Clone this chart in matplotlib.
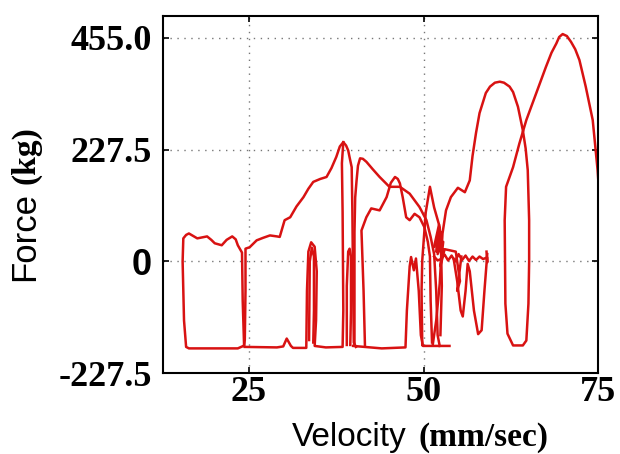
import numpy as np
from matplotlib import pyplot as plt

# traced force/velocity data (velocity mm/sec, force kg)
box_v = [24.2, 23.4, 20.0, 16.4, 16.0, 15.7, 15.5, 15.6, 16.0, 16.4, 17.0, 17.6, 18.3, 19.0, 19.6, 20.1,
         21.1, 21.8, 22.6, 23.1, 23.4, 24.0, 24.1, 24.3]
box_f = [-172, -177, -177, -177, -174, -120, 0, 47, 54, 57, 52, 47, 49, 51, 44, 37,
         33, 44, 51, 45, 33, 18, -80, -172]

rise_v = [24.3, 24.4, 24.5, 24.5, 25.1, 26.1, 27.0, 28.0, 29.0, 29.4, 30.1, 30.9, 31.8, 32.8, 33.5, 34.2,
          35.2, 36.1, 36.8, 37.5, 38.0, 38.5, 38.9, 39.2, 39.4, 39.7, 39.8, 39.9, 40.0, 40.3]
rise_f = [-172, -160, -60, 26, 29, 43, 48, 53, 51, 50, 84, 90, 112, 131, 148, 162,
          168, 172, 190, 213, 234, 243, 236, 226, 212, 192, 100, -50, -165, -174]

bottom_v = [24.4, 29.0, 29.9, 30.4, 31.0, 31.3, 33.2, 33.3, 33.5, 33.9, 34.4, 34.7, 34.6, 34.4, 36.0, 38.4,
            38.5, 38.4, 38.3, 38.5]
bottom_f = [-174, -175, -173, -157, -172, -176, -176, -60, 20, 39, 30, -20, -120, -172, -175, -174,
            -100, 100, 200, 243]

inner1_v = [33.6, 33.7, 34.0, 34.3, 34.3, 34.2]
inner1_f = [-160, 0, 28, 10, -100, -165]
inner2_v = [39.0, 39.0, 39.2, 39.4, 39.6, 39.6, 39.5]
inner2_f = [-170, -50, 20, 26, 10, -100, -170]

hump2_v = [40.1, 40.1, 40.2, 40.4, 40.6, 40.9, 41.3, 41.8, 42.7, 43.7, 45.1, 46.6, 48.0, 49.4, 50.4, 51.0,
           51.5, 51.8, 52.0, 52.3]
hump2_f = [-170, 60, 130, 165, 195, 210, 209, 203, 188, 172, 152, 152, 138, 111, 84, 50,
           15, -60, -150, -172]

hump3_v = [41.6, 41.4, 41.1, 41.8, 42.5, 43.7, 44.7, 45.3, 45.9, 46.3, 46.6, 47.0, 47.5, 48.0, 48.7, 49.4,
           50.1, 50.6, 50.9, 51.0, 51.2]
hump3_f = [-172, -60, 63, 90, 108, 104, 131, 160, 172, 168, 159, 131, 90, 84, 97, 90,
           70, 40, 10, -80, -165]

bottom2_v = [39.9, 44.0, 47.4, 47.6, 48.0, 48.2, 48.6, 48.9, 49.3, 49.6, 49.9, 53.7]
bottom2_f = [-172, -177, -175, -100, -10, 9, -18, 6, -60, -150, -172, -172]

spike_v = [49.8, 49.7, 49.8, 50.3, 50.9, 51.5, 52.3, 52.5, 52.6, 52.4]
spike_f = [-170, -60, 2, 100, 152, 110, 70, 20, -50, -150]

hump4_v = [51.3, 51.8, 52.3, 52.7, 53.2, 53.9, 54.9, 55.9, 56.6, 57.0, 57.5, 58.0, 58.9, 59.5, 60.2, 60.9,
           61.5, 62.3, 62.8, 63.5, 64.2, 64.6, 64.9, 65.1, 65.1, 65.0, 64.7, 64.2, 62.8, 62.0, 61.7,
           61.6, 61.8, 62.8, 63.7, 64.7, 66.1, 67.5, 68.3, 69.0, 69.4, 69.9, 70.5, 71.1, 71.7, 72.3,
           73.2, 74.2, 74.9, 75.0]
hump4_f = [-170, -120, -45, 57, 104, 131, 150, 141, 165, 215, 262, 302, 343, 356, 364, 366,
           364, 356, 345, 315, 267, 230, 186, 84, 0, -86, -161, -171, -171, -147, -86,
           84, 152, 192, 240, 288, 342, 396, 425, 444, 457, 463, 459, 447, 432, 410,
           356, 288, 186, 165]

band_v = [51.5, 52.0, 52.5, 53.0, 53.5, 54.0, 54.5, 55.0, 55.5, 56.0, 56.5, 57.0, 57.5, 58.0, 58.5, 59.1,
          59.1, 59.0]
band_f = [10, 2, 5, 14, 2, 12, 0, 15, 3, 12, 1, 10, 3, 10, 5, 8, -2, 20]

lobe_v = [54.3, 54.8, 55.3, 55.6, 56.0, 56.3, 56.6, 57.2, 57.8, 58.3, 58.7, 59.0, 59.1]
lobe_f = [5, -40, -100, -112, -60, -5, -20, -100, -148, -140, -60, -5, 15]

blob_v = [51.5, 52.2, 51.8, 52.6, 52.0, 52.8, 52.4, 53.0, 54.6, 55.2, 54.8, 55.4]
blob_f = [30, 75, 20, 60, 15, 40, -10, 25, 20, -40, -60, 10]

strokes = [(box_v, box_f), (rise_v, rise_f), (bottom_v, bottom_f), (inner1_v, inner1_f),
           (inner2_v, inner2_f), (hump2_v, hump2_f), (hump3_v, hump3_f), (bottom2_v, bottom2_f),
           (spike_v, spike_f), (hump4_v, hump4_f), (band_v, band_f), (lobe_v, lobe_f),
           (blob_v, blob_f)]

x_ticks = [25, 50, 75]
x_labels = ['25', '50', '75']
y_ticks = [-227.5, 0, 227.5, 455.0]
y_labels = ['-227.5', '0', '227.5', '455.0']

fig = plt.figure(figsize=(6.2, 4.54), dpi=100)
ax = fig.add_axes([0.263, 0.178, 0.702, 0.787])

for v, f in strokes:
    ax.plot(v, f, color='#d81212', linewidth=1.8)

ax.set_xlim(12.7, 75)
ax.set_ylim(-227.5, 500)

#ticks
ax.set_xticks(x_ticks)
ax.set_xticklabels(x_labels, family='Liberation Serif', fontweight='bold', fontsize=26)
ax.set_yticks(y_ticks)
ax.set_yticklabels(y_labels, family='Liberation Serif', fontweight='bold', fontsize=26)
for t in ax.get_yticklabels():
    if t.get_text() == '0':
        t.set_family('Liberation Sans')
ax.tick_params(direction='in', length=4, width=1.2, top=True, right=True)
ax.tick_params(axis='x', pad=2)
ax.tick_params(axis='y', pad=8)

for s in ax.spines.values():
    s.set_linewidth(1.5)

#grid
ax.grid(True, linestyle=(0, (1, 4)), color='#777777', linewidth=1.0)

#axis labels, mixed fonts like the original
fig.text(407 / 620, 1 - 446 / 454, 'Velocity', family='Liberation Sans', fontsize=24,
         ha='right', va='baseline')
fig.text(418 / 620, 1 - 446 / 454, '(mm/sec)', family='Liberation Serif', fontweight='bold',
         fontsize=24, ha='left', va='baseline')
fig.text(34 / 620, 1 - 192 / 454, 'Force', family='Liberation Sans', fontsize=25, rotation=90,
         rotation_mode='anchor', ha='right', va='baseline')
fig.text(34 / 620, 1 - 184 / 454, '(kg)', family='Liberation Serif', fontweight='bold', fontsize=24,
         rotation=90, rotation_mode='anchor', ha='left', va='baseline')

plt.savefig('out.png', dpi=100)
